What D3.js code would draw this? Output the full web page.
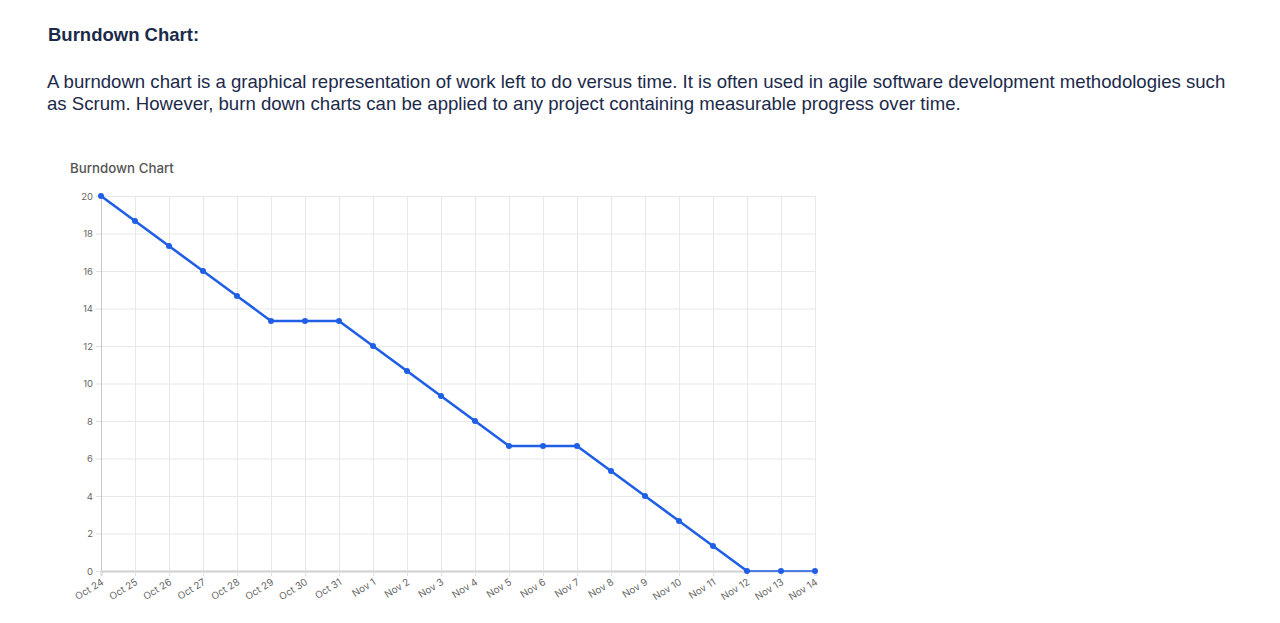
<!DOCTYPE html>
<html>
<head>
<meta charset="utf-8">
<script src="https://cdn.jsdelivr.net/npm/d3@7"></script>
<style>
  body { margin: 0; background: #fff; }
  svg { display: block; }
</style>
</head>
<body>
<svg id="chart" width="1280" height="623"></svg>
<script>
const dates = ["Oct 24","Oct 25","Oct 26","Oct 27","Oct 28","Oct 29","Oct 30","Oct 31","Nov 1","Nov 2","Nov 3","Nov 4","Nov 5","Nov 6","Nov 7","Nov 8","Nov 9","Nov 10","Nov 11","Nov 12","Nov 13","Nov 14"];
const remaining = [20,18.67,17.33,16,14.67,13.33,13.33,13.33,12,10.67,9.33,8,6.67,6.67,6.67,5.33,4,2.67,1.33,0,0,0];
const yTicks = [0,2,4,6,8,10,12,14,16,18,20];
const heading = "Burndown Chart:";
const paragraph = [
  "A burndown chart is a graphical representation of work left to do versus time. It is often used in agile software development methodologies such",
  "as Scrum. However, burn down charts can be applied to any project containing measurable progress over time."
];
const chartTitle = "Burndown Chart";

(function () {
const svg = d3.select("#chart");
svg.append("text").attr("x", 48).attr("y", 41)
  .attr("font-family", "Liberation Sans, Arial, sans-serif").attr("font-weight", "bold")
  .attr("font-size", 18.5).attr("fill", "#1c2a4a").text(heading);
paragraph.forEach((t, i) => {
  svg.append("text").attr("x", 47).attr("y", 88 + i * 22)
    .attr("font-family", "Liberation Sans, Arial, sans-serif")
    .attr("font-size", 18.6).attr("fill", "#1c2a4a").text(t);
});
svg.append("text").attr("x", 70).attr("y", 173)
  .attr("font-family", "Inter, Noto Sans, sans-serif").attr("font-weight", 500)
  .attr("font-size", 13.3).attr("fill", "#555").text(chartTitle);

const pL = 101, pR = 815, pT = 196, pB = 571;
const x = d3.scalePoint().domain(dates).range([pL, pR]);
const y = d3.scaleLinear().domain([0, 20]).range([pB, pT]);

const g = svg.append("g");
g.append("g").attr("transform", `translate(${pL},0)`)
  .call(d3.axisLeft(y).tickValues(yTicks).tickSize(-(pR - pL)).tickFormat(""))
  .call(s => s.select(".domain").remove())
  .call(s => s.selectAll("line").attr("stroke", "#e8e8e8"));
g.append("g").attr("transform", `translate(0,${pT})`)
  .call(d3.axisBottom(x).tickSize(pB - pT).tickFormat(""))
  .call(s => s.select(".domain").remove())
  .call(s => s.selectAll("line").attr("stroke", "#e8e8e8"));

const ya = g.append("g").attr("transform", `translate(${pL},0)`)
  .call(d3.axisLeft(y).tickValues(yTicks).tickSize(5).tickPadding(3));
ya.select(".domain").attr("stroke", "#c8c8c8");
ya.selectAll("line").attr("stroke", "#e0e0e0");
ya.selectAll("text").attr("fill", "#666").attr("font-size", 9.5)
  .attr("font-family", "Inter, Noto Sans, sans-serif");

const xa = g.append("g").attr("transform", `translate(0,${pB})`)
  .call(d3.axisBottom(x).tickSize(5).tickPadding(0));
xa.select(".domain").attr("stroke", "#d0d0d0").attr("stroke-width", 2);
xa.selectAll("line").attr("stroke", "#e0e0e0");
xa.selectAll("text").attr("fill", "#666").attr("font-size", 9.8)
  .attr("font-family", "Inter, Noto Sans, sans-serif")
  .attr("text-anchor", "end")
  .attr("dx", "-0.45em").attr("dy", "0.75em")
  .attr("transform", "rotate(-32)");

const color = "#1f5fe6";
const pts = dates.map((d, i) => ({ d, v: remaining[i] }));
const firstZero = remaining.indexOf(0);
const line = d3.line().x(p => x(p.d)).y(p => y(p.v));
g.append("path").datum(pts.slice(0, firstZero + 1))
  .attr("fill", "none").attr("stroke", color).attr("stroke-width", 2.6)
  .attr("stroke-linejoin", "round").attr("d", line);
g.append("path").datum(pts.slice(firstZero))
  .attr("fill", "none").attr("stroke", color).attr("stroke-width", 1.5).attr("d", line);
g.selectAll("circle").data(pts).join("circle")
  .attr("cx", p => x(p.d)).attr("cy", p => y(p.v)).attr("r", 3).attr("fill", color);
})();
</script>
</body>
</html>
